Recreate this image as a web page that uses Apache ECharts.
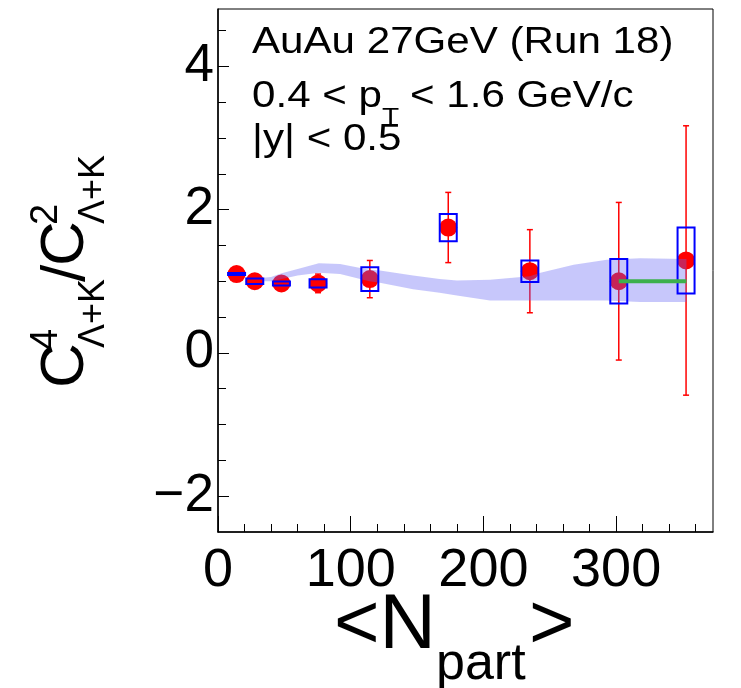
<!DOCTYPE html>
<html><head><meta charset="utf-8">
<script src="https://cdn.jsdelivr.net/npm/echarts@6/dist/echarts.min.js"></script>
<style>html,body{margin:0;padding:0;background:#fff}#c{width:741px;height:688px}</style>
</head><body><div id="c"></div>
<script>
// ---- data ----
const npart   = [14, 27.7, 47.8, 75.4, 114.4, 173.5, 235, 302, 352.7];
const ratio   = [1.10, 1.00, 0.97, 0.97, 1.03, 1.75, 1.14, 1.00, 1.29];
const statErr = [0.03, 0.03, 0.03, 0.13, 0.26, 0.49, 0.58, 1.10, 1.88];
const sysErr  = [0.014, 0.037, 0.028, 0.058, 0.165, 0.19, 0.15, 0.31, 0.46];
const bandN  = [34, 40, 48, 60, 76, 92, 114, 122, 147, 167, 180, 205, 235, 243, 268, 293, 318, 353];
const bandLo = [1.00, 1.00, 1.03, 1.08, 1.12, 1.10, 1.00, 0.98, 0.89, 0.84, 0.80, 0.73, 0.73, 0.73, 0.73, 0.73, 0.71, 0.71];
const bandHi = [1.05, 1.06, 1.11, 1.17, 1.25, 1.24, 1.16, 1.15, 1.08, 1.03, 1.01, 1.02, 1.07, 1.12, 1.23, 1.30, 1.32, 1.31];
const refN = [302, 353];
const refY = [1.0, 1.0];
const xMajor = [0, 100, 200, 300];
const xMinor = [20, 40, 60, 80, 120, 140, 160, 180, 220, 240, 260, 280, 320, 340, 360];
const yMajor = [-2, 0, 2, 4];
const yMinor = [-1.5, -1, -0.5, 0.5, 1, 1.5, 2.5, 3, 3.5, 4.5];

const FONT = 'Liberation Sans';
const chart = echarts.init(document.getElementById('c'));

const gridBox = { left: 218, right: 28, top: 9, bottom: 156 };
const X0 = 0, X1 = 373, Y0 = -2.5, Y1 = 4.8;

function errItem(params, api) {
  const x = api.value(0), lo = api.value(1), hi = api.value(2);
  const p1 = api.coord([x, lo]), p2 = api.coord([x, hi]);
  const cap = 3;
  const style = { stroke: '#ff0000', lineWidth: 1.5 };
  return { type: 'group', children: [
    { type: 'line', shape: { x1: p1[0], y1: p1[1], x2: p2[0], y2: p2[1] }, style },
    { type: 'line', shape: { x1: p1[0] - cap, y1: p1[1], x2: p1[0] + cap, y2: p1[1] }, style },
    { type: 'line', shape: { x1: p2[0] - cap, y1: p2[1], x2: p2[0] + cap, y2: p2[1] }, style }
  ]};
}
function boxItem(params, api) {
  const x = api.value(0), lo = api.value(1), hi = api.value(2);
  const p1 = api.coord([x, lo]), p2 = api.coord([x, hi]);
  const hw = 8.5;
  return { type: 'rect', shape: { x: p1[0] - hw, y: p2[1], width: 2 * hw, height: p1[1] - p2[1] },
    style: { fill: 'none', stroke: '#0000ff', lineWidth: 2 } };
}
function bandItem(params, api) {
  if (params.dataIndex !== 0) return null;
  const pts = [];
  for (let i = 0; i < bandN.length; i++) pts.push(api.coord([bandN[i], bandHi[i]]));
  for (let i = bandN.length - 1; i >= 0; i--) pts.push(api.coord([bandN[i], bandLo[i]]));
  return { type: 'polygon', shape: { points: pts }, style: { fill: 'rgba(100,100,245,0.36)', stroke: 'none' } };
}

const errData = npart.map((n, i) => [n, ratio[i] - statErr[i], ratio[i] + statErr[i]]);
const boxData = npart.map((n, i) => [n, ratio[i] - sysErr[i], ratio[i] + sysErr[i]]);
const ptData = npart.map((n, i) => [n, ratio[i]]);
const refData = refN.map((n, i) => [n, refY[i]]);

const capStyle = { fontFamily: FONT, fontSize: 36, fill: '#000' };

const option = {
  animation: false,
  backgroundColor: '#fff',
  grid: [
    Object.assign({ show: true, borderColor: '#000', borderWidth: 1, backgroundColor: 'transparent' }, gridBox),
    Object.assign({ show: false }, gridBox)
  ],
  xAxis: [
    { type: 'value', gridIndex: 0, min: X0, max: X1, position: 'bottom',
      axisLine: { show: true, onZero: false, lineStyle: { color: '#000', width: 1.5 } },
      axisTick: { show: true, inside: true, length: 16, customValues: xMajor, lineStyle: { color: '#000', width: 1 } },
      axisLabel: { show: true, customValues: xMajor, fontFamily: FONT, fontSize: 54, color: '#000', margin: 12 },
      splitLine: { show: false } },
    { type: 'value', gridIndex: 1, min: X0, max: X1, position: 'bottom',
      axisLine: { show: false, onZero: false },
      axisTick: { show: true, inside: true, length: 8, customValues: xMinor, lineStyle: { color: '#000', width: 1 } },
      axisLabel: { show: false }, splitLine: { show: false } }
  ],
  yAxis: [
    { type: 'value', gridIndex: 0, min: Y0, max: Y1, position: 'left',
      axisLine: { show: true, onZero: false, lineStyle: { color: '#000', width: 1.5 } },
      axisTick: { show: true, inside: true, length: 11, customValues: yMajor, lineStyle: { color: '#000', width: 1 } },
      axisLabel: { show: true, customValues: yMajor, fontFamily: FONT, fontSize: 53, color: '#000', margin: 4,
        formatter: v => String(v).replace('-', '\u2212') },
      splitLine: { show: false } },
    { type: 'value', gridIndex: 1, min: Y0, max: Y1, position: 'left',
      axisLine: { show: false, onZero: false },
      axisTick: { show: true, inside: true, length: 8, customValues: yMinor, lineStyle: { color: '#000', width: 1 } },
      axisLabel: { show: false }, splitLine: { show: false } }
  ],
  series: [
    { type: 'custom', name: 'stat', xAxisIndex: 0, yAxisIndex: 0, z: 2, renderItem: errItem,
      encode: { x: 0, y: [1, 2] }, data: errData, clip: true },
    { type: 'scatter', name: 'points', xAxisIndex: 0, yAxisIndex: 0, z: 3, symbol: 'circle', symbolSize: 18,
      itemStyle: { color: '#ff0000', opacity: 1 }, data: ptData },
    { type: 'custom', name: 'band', xAxisIndex: 0, yAxisIndex: 0, z: 4, renderItem: bandItem,
      encode: { x: 0, y: 1 }, data: [[bandN[0], bandLo[0]]] },
    { type: 'custom', name: 'sys', xAxisIndex: 0, yAxisIndex: 0, z: 5, renderItem: boxItem,
      encode: { x: 0, y: [1, 2] }, data: boxData },
    { type: 'line', name: 'ref', xAxisIndex: 0, yAxisIndex: 0, z: 6, symbol: 'none',
      lineStyle: { color: '#3cb04c', width: 4 }, data: refData }
  ],
  graphic: [
    // caption
    { type: 'text', x: 252, y: 43, scaleX: 1.17, style: Object.assign({ text: 'AuAu 27GeV (Run 18)', verticalAlign: 'middle', align: 'left' }, capStyle) },
    { type: 'text', x: 252, y: 97, scaleX: 1.17, style: Object.assign({ text: '0.4 < p', verticalAlign: 'middle', align: 'left' }, capStyle) },
    { type: 'text', x: 382, y: 118, scaleX: 1.17, style: { text: 'T', fontFamily: FONT, fontSize: 24, fill: '#000', verticalAlign: 'middle', align: 'left' } },
    { type: 'text', x: 410, y: 97, scaleX: 1.17, style: Object.assign({ text: '< 1.6 GeV/c', verticalAlign: 'middle', align: 'left' }, capStyle) },
    { type: 'text', x: 252, y: 140, scaleX: 1.17, style: Object.assign({ text: '|y| < 0.5', verticalAlign: 'middle', align: 'left' }, capStyle) },
    // x title
    { type: 'text', x: 334, y: 626, style: { text: '<N', fontFamily: FONT, fontSize: 78, fill: '#000', verticalAlign: 'middle', align: 'left' } },
    { type: 'text', x: 436, y: 665, style: { text: 'part', fontFamily: FONT, fontSize: 52, fill: '#000', verticalAlign: 'middle', align: 'left' } },
    { type: 'text', x: 529, y: 626, style: { text: '>', fontFamily: FONT, fontSize: 78, fill: '#000', verticalAlign: 'middle', align: 'left' } },
    // y title (rotated)
    { type: 'group', x: 0, y: 385, rotation: Math.PI / 2, children: [
      { type: 'text', x: -3, y: 66, style: { text: 'C', fontFamily: FONT, fontSize: 62, fill: '#000', verticalAlign: 'middle', align: 'left' } },
      { type: 'text', x: 35, y: 47, style: { text: '4', fontFamily: FONT, fontSize: 38, fill: '#000', verticalAlign: 'middle', align: 'left' } },
      { type: 'text', x: 37, y: 94, style: { text: 'Λ+K', fontFamily: FONT, fontSize: 36, fill: '#000', verticalAlign: 'middle', align: 'left' } },
      { type: 'text', x: 103, y: 67, style: { text: '/', fontFamily: FONT, fontSize: 62, fill: '#000', verticalAlign: 'middle', align: 'left' } },
      { type: 'text', x: 119, y: 66, style: { text: 'C', fontFamily: FONT, fontSize: 62, fill: '#000', verticalAlign: 'middle', align: 'left' } },
      { type: 'text', x: 160, y: 47, style: { text: '2', fontFamily: FONT, fontSize: 38, fill: '#000', verticalAlign: 'middle', align: 'left' } },
      { type: 'text', x: 161, y: 94, style: { text: 'Λ+K', fontFamily: FONT, fontSize: 36, fill: '#000', verticalAlign: 'middle', align: 'left' } }
    ]}
  ]
};
chart.setOption(option);
</script>
</body></html>
